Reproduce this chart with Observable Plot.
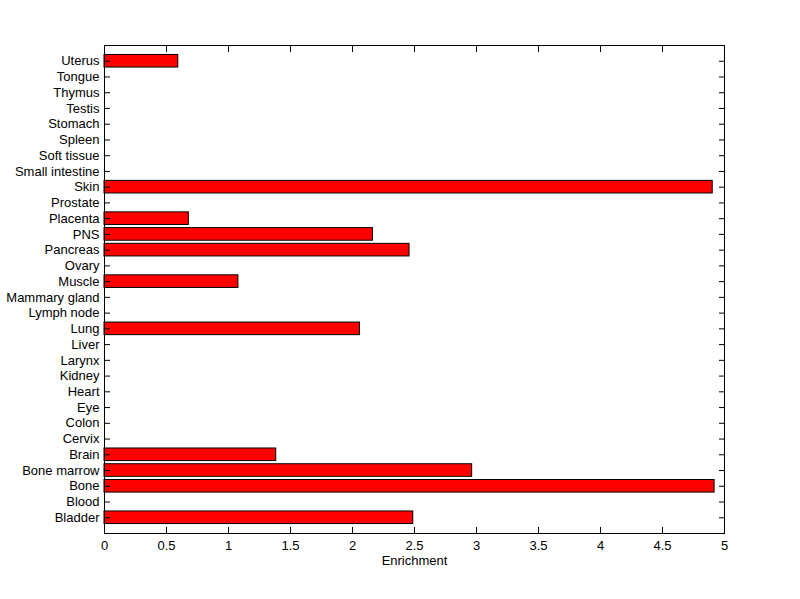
<!DOCTYPE html>
<html><head><meta charset="utf-8">
<script src="https://cdn.jsdelivr.net/npm/d3@7"></script>
<script src="https://cdn.jsdelivr.net/npm/@observablehq/plot@0.6"></script>
<style>body{margin:0;background:#fff} svg{display:block}</style>
</head><body><div id="chart"></div>
<script>
const categories = ["Bladder","Blood","Bone","Bone marrow","Brain","Cervix","Colon","Eye","Heart","Kidney","Larynx","Liver","Lung","Lymph node","Mammary gland","Muscle","Ovary","Pancreas","PNS","Placenta","Prostate","Skin","Small intestine","Soft tissue","Spleen","Stomach","Testis","Thymus","Tongue","Uterus"];
const enrichment = [2.49,0,4.92,2.965,1.385,0,0,0,0,0,0,0,2.06,0,0,1.08,0,2.46,2.165,0.68,0,4.905,0,0,0,0,0,0,0,0.595];
const xTicks = [0,0.5,1,1.5,2,2.5,3,3.5,4,4.5,5];
const xLabel = "Enrichment";
const data = categories.map((c,i)=>({tissue:c, value:enrichment[i]}));
const fmt = d => String(d);
const chart = Plot.plot({
  width:800, height:599,
  marginLeft:104, marginRight:76, marginTop:45, marginBottom:66,
  style:{fontFamily:"'Liberation Sans', Arial, sans-serif", fontSize:"13px", color:"#000", background:"#fff", overflow:"visible"},
  x:{domain:[0,5]},
  y:{type:"band", domain: categories.slice().reverse(), paddingInner:0.2, paddingOuter:0.6, round:false},
  marks:[
    Plot.barX(data.filter(d=>d.value>0), {x:"value", y:"tissue", fill:"#ff0000", stroke:"#000", strokeWidth:1}),
    Plot.frame({stroke:"#000", strokeWidth:1}),
    Plot.axisX(xTicks, {anchor:"bottom", tickSize:-6, tickPadding:13, tickFormat:fmt, label:null}),
    Plot.axisX(xTicks, {anchor:"top", tickSize:-6, tickFormat:()=>"", label:null}),
    Plot.axisY({anchor:"left", tickSize:-6, tickPadding:11, label:null}),
    Plot.axisY({anchor:"right", tickSize:-6, tickFormat:()=>"", label:null}),
    Plot.text([xLabel], {frameAnchor:"bottom", dy:31, text:d=>d, fill:"#000"})
  ]
});
document.getElementById("chart").appendChild(chart);
</script>
</body></html>
